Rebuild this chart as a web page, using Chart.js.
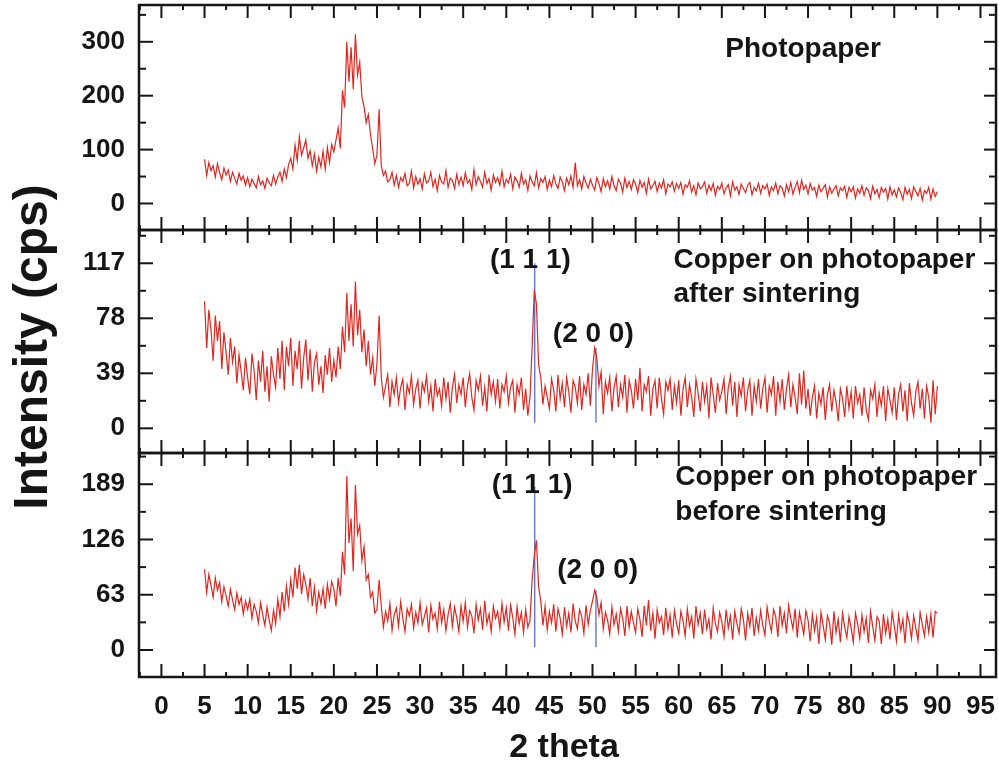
<!DOCTYPE html>
<html>
<head>
<meta charset="utf-8">
<script src="https://cdn.jsdelivr.net/npm/chart.js@4"></script>
<style>
  html, body { margin: 0; padding: 0; background: #fff; }
  canvas { display: block; }
</style>
</head>
<body>
<canvas id="xrd" width="999" height="761"></canvas>
<script>
// scan range: 2 theta from 5 to 90 in 0.25 degree steps
const thetaStart = 5;
const thetaStep = 0.25;

// intensities (cps), one row per 5 degrees
const photopaper = [
  82, 52, 76, 61, 70, 49, 74, 57, 44, 66, 53, 62, 41, 58, 47, 36, 56, 43, 51, 34,
  48, 31, 45, 37, 29, 50, 35, 42, 28, 47, 38, 33, 52, 36, 49, 58, 41, 64, 48, 72,
  84, 64, 108, 80, 124, 90, 103, 118, 84, 98, 70, 92, 60, 86, 68, 97, 64, 104, 76, 110,
  96, 118, 140, 102, 210, 178, 300, 226, 290, 212, 314, 238, 262, 198, 180, 150, 165, 128, 102, 74,
  90, 175, 70, 52, 60, 40, 44, 58, 34, 52, 30, 48, 41, 56, 33, 37, 60, 29, 50, 36,
  46, 27, 55, 38, 42, 58, 31, 45, 24, 52, 40, 36, 61, 30, 47, 43, 28, 54, 35, 49,
  33, 57, 38, 44, 26, 63, 35, 50, 41, 30, 58, 37, 46, 25, 53, 39, 48, 34, 60, 31,
  45, 38, 54, 27, 49, 42, 30, 56, 36, 44, 24, 51, 40, 33, 57, 29, 46, 39, 50, 26,
  43, 31, 52, 36, 28, 49, 40, 24, 47, 35, 51, 30, 76, 33, 44, 27, 50, 38, 29, 45,
  34, 25, 48, 37, 22, 46, 31, 42, 27, 50, 33, 24, 45, 38, 21, 47, 30, 41, 26, 44,
  36, 20, 43, 30, 39, 19, 45, 27, 33, 41, 22, 38, 29, 44, 18, 36, 31, 40, 23, 37,
  28, 39, 17, 35, 30, 42, 21, 33, 16, 38, 27, 31, 40, 19, 34, 24, 37, 15, 32, 26,
  38, 18, 29, 35, 14, 40, 25, 31, 17, 36, 28, 20, 34, 39, 16, 30, 23, 37, 19, 33,
  27, 36, 15, 31, 24, 38, 18, 33, 29, 14, 35, 22, 39, 17, 30, 41, 20, 43, 26, 34,
  18, 37, 25, 30, 13, 34, 22, 28, 35, 12, 31, 19, 27, 33, 14, 29, 24, 32, 11, 30,
  22, 31, 10, 27, 19, 33, 15, 29, 24, 9, 32, 18, 26, 11, 30, 21, 28, 8, 31, 16,
  25, 12, 29, 20, 7, 30, 17, 26, 9, 31, 22, 14, 28, 6, 24, 19, 30, 8, 27, 13,
  22
];

const afterSintering = [
  90, 57, 84, 70, 48, 80, 62, 76, 42, 68, 54, 38, 64, 47, 58, 32, 52, 40, 27, 50,
  36, 24, 53, 41, 20, 48, 33, 55, 26, 44, 19, 51, 38, 29, 57, 35, 62, 27, 58, 44,
  64, 30, 55, 42, 62, 28, 50, 63, 34, 56, 26, 47, 53, 31, 44, 25, 52, 38, 57, 33,
  48, 36, 58, 42, 72, 54, 96, 62, 88, 58, 104, 66, 84, 54, 70, 44, 62, 38, 50, 30,
  46, 80, 36, 22, 30, 38, 15, 33, 24, 36, 18, 29, 35, 13, 31, 25, 37, 17, 28, 34,
  14, 32, 26, 37, 19, 30, 12, 35, 23, 28, 16, 36, 21, 33, 11, 29, 38, 18, 31, 24,
  36, 15, 30, 39, 22, 13, 34, 27, 37, 16, 29, 12, 38, 24, 33, 19, 35, 14, 31, 26,
  37, 18, 29, 34, 11, 31, 24, 36, 13, 28, 9, 22, 58, 98, 88, 45, 36, 17, 30, 22,
  14, 35, 27, 12, 38, 21, 32, 15, 36, 26, 11, 34, 29, 18, 37, 13, 31, 24, 39, 16,
  42, 57, 50, 30, 40, 10, 33, 25, 36, 12, 29, 37, 15, 31, 22, 38, 11, 34, 27, 14,
  35, 20, 43, 12, 31, 26, 37, 9, 28, 34, 14, 36, 21, 10, 33, 27, 35, 13, 30, 18,
  34, 9, 28, 36, 15, 31, 22, 8, 35, 25, 12, 33, 19, 30, 7, 36, 24, 11, 32, 20,
  26, 35, 10, 29, 37, 16, 33, 8, 31, 23, 36, 12, 27, 34, 9, 30, 19, 35, 14, 28,
  36, 11, 30, 24, 37, 9, 33, 19, 35, 13, 28, 38, 15, 31, 22, 10, 39, 17, 41, 14,
  28, 9, 22, 30, 7, 25, 17, 29, 6, 24, 31, 12, 27, 19, 5, 28, 21, 8, 30, 14,
  26, 7, 30, 18, 24, 9, 29, 13, 6, 27, 21, 31, 8, 25, 16, 30, 5, 28, 20, 11,
  29, 6, 24, 31, 12, 27, 5, 32, 18, 9, 26, 33, 14, 28, 7, 30, 22, 4, 34, 10,
  30
];

const beforeSintering = [
  92, 66, 86, 74, 60, 82, 68, 77, 55, 72, 62, 50, 69, 57, 46, 65, 52, 60, 41, 56,
  46, 58, 36, 52, 44, 31, 54, 40, 28, 49, 34, 22, 45, 30, 58, 38, 66, 44, 73, 52,
  80, 60, 94, 70, 97, 64, 86, 75, 58, 82, 50, 72, 45, 66, 53, 70, 47, 75, 58, 78,
  70, 50, 82, 62, 112, 86, 198, 122, 150, 90, 188, 132, 142, 102, 118, 80, 86, 60, 66, 42,
  46, 80, 50, 26, 44, 33, 53, 22, 40, 48, 27, 55, 36, 21, 47, 39, 52, 25, 43, 31,
  54, 29, 38, 48, 20, 51, 35, 42, 24, 55, 31, 46, 22, 40, 53, 27, 49, 37, 21, 50,
  33, 54, 26, 45, 39, 19, 52, 34, 47, 23, 56, 30, 41, 21, 50, 36, 44, 25, 53, 32,
  48, 22, 51, 37, 18, 49, 30, 43, 20, 46, 26, 34, 80, 108, 125, 72, 56, 28, 50, 23,
  44, 31, 52, 21, 47, 36, 18, 49, 27, 42, 20, 53, 33, 24, 46, 38, 19, 51, 29, 45,
  56, 68, 60, 40, 54, 24, 43, 34, 18, 49, 29, 41, 21, 47, 36, 16, 50, 26, 44, 31,
  20, 47, 35, 15, 50, 28, 57, 22, 42, 13, 46, 31, 38, 17, 48, 24, 40, 14, 45, 30,
  19, 44, 33, 16, 47, 27, 38, 13, 50, 29, 42, 18, 46, 24, 35, 12, 48, 30, 21, 43,
  32, 15, 46, 25, 39, 12, 44, 30, 19, 47, 35, 11, 42, 27, 48, 16, 37, 22, 45, 28,
  17, 49, 33, 21, 46, 38, 15, 50, 28, 42, 19, 51, 36, 24, 47, 14, 43, 31, 18, 45,
  34, 10, 41, 22, 37, 7, 43, 28, 12, 39, 31, 6, 44, 20, 35, 9, 42, 26, 14, 38,
  25, 9, 42, 30, 13, 40, 21, 36, 8, 44, 27, 11, 38, 33, 7, 41, 19, 35, 12, 43,
  28, 10, 40, 22, 35, 8, 42, 31, 13, 39, 25, 11, 43, 29, 16, 38, 20, 41, 14, 44,
  42
];

// Cu reference reflections (111) and (200)
const cuPeakTheta = [43.3, 50.4];
const cuAfterHeights = [117, 57];
const cuBeforeHeights = [186, 68];
const cuAfterBase = 4;
const cuBeforeBase = 3;

// tick labels
const thetaTicks = [0, 5, 10, 15, 20, 25, 30, 35, 40, 45, 50, 55, 60, 65, 70, 75, 80, 85, 90, 95];
const photopaperTicks = [0, 100, 200, 300];
const afterTicks = [0, 39, 78, 117];
const beforeTicks = [0, 63, 126, 189];

const RED = '#e0261e';
const BLUE = '#4d5fc9';
const INK = '#151515';
const FONT = '"Liberation Sans", Arial, sans-serif';

const toPoints = (values) => values.map((y, i) => ({ x: thetaStart + i * thetaStep, y }));

const refLines = (heights, base, axis) => cuPeakTheta.map((t, i) => ({
  data: [{ x: t, y: base }, { x: t, y: heights[i] }],
  yAxisID: axis,
  borderColor: BLUE,
  borderWidth: 1.2,
  pointRadius: 0,
}));

const traceSet = (values, axis) => ({
  data: toPoints(values),
  yAxisID: axis,
  borderColor: RED,
  borderWidth: 1.2,
  pointRadius: 0,
  tension: 0,
});

const panels = [
  { axis: 'yPaper', ticks: photopaperTicks },
  { axis: 'yAfter', ticks: afterTicks },
  { axis: 'yBefore', ticks: beforeTicks },
];

// text placed in data units of each panel
const notes = [
  { axis: 'yPaper', x: 65.4, y: 272, text: 'Photopaper' },
  { axis: 'yAfter', x: 59.4, y: 113.7, text: 'Copper on photopaper' },
  { axis: 'yAfter', x: 59.4, y: 89.6, text: 'after sintering' },
  { axis: 'yAfter', x: 38.1, y: 113.7, text: '(1 1 1)' },
  { axis: 'yAfter', x: 45.4, y: 61.3, text: '(2 0 0)' },
  { axis: 'yBefore', x: 59.6, y: 188, text: 'Copper on photopaper' },
  { axis: 'yBefore', x: 59.6, y: 148, text: 'before sintering' },
  { axis: 'yBefore', x: 38.3, y: 179, text: '(1 1 1)' },
  { axis: 'yBefore', x: 45.9, y: 82, text: '(2 0 0)' },
];

const minorTicks = (ticks, min, max) => {
  const step = ticks[1] - ticks[0];
  const out = [];
  for (let v = ticks[0] - step / 2; v < max; v += step) {
    if (v > min) out.push(v);
  }
  return out;
};

// frame, inward ticks and the text labels
const panelFrame = {
  id: 'panelFrame',
  afterDraw(chart) {
    const { ctx, chartArea, scales } = chart;
    const xs = scales.x;
    const seg = (x1, y1, x2, y2) => {
      ctx.beginPath();
      ctx.moveTo(x1, y1);
      ctx.lineTo(x2, y2);
      ctx.stroke();
    };
    ctx.save();
    ctx.strokeStyle = INK;
    const xMinor = minorTicks(thetaTicks, xs.min, xs.max);
    panels.forEach((p) => {
      const ys = scales[p.axis];
      ctx.lineWidth = 2;
      thetaTicks.forEach((v) => {
        const px = xs.getPixelForValue(v);
        seg(px, ys.bottom, px, ys.bottom - 13);
        seg(px, ys.top, px, ys.top + 13);
      });
      xMinor.forEach((v) => {
        const px = xs.getPixelForValue(v);
        seg(px, ys.bottom, px, ys.bottom - 5);
        seg(px, ys.top, px, ys.top + 5);
      });
      p.ticks.forEach((v) => {
        const py = ys.getPixelForValue(v);
        seg(chartArea.left, py, chartArea.left + 14, py);
        seg(chartArea.right, py, chartArea.right - 12, py);
      });
      minorTicks(p.ticks, ys.min, ys.max).forEach((v) => {
        const py = ys.getPixelForValue(v);
        seg(chartArea.left, py, chartArea.left + 7, py);
        seg(chartArea.right, py, chartArea.right - 7, py);
      });
      ctx.lineWidth = 2.5;
      ctx.strokeRect(chartArea.left, ys.top, chartArea.right - chartArea.left, ys.bottom - ys.top);
    });

    ctx.fillStyle = INK;
    ctx.font = 'bold 28px ' + FONT;
    ctx.textAlign = 'left';
    ctx.textBaseline = 'alphabetic';
    notes.forEach((n) => {
      ctx.fillText(n.text, xs.getPixelForValue(n.x), scales[n.axis].getPixelForValue(n.y));
    });

    // axis titles
    ctx.font = 'bold 34px ' + FONT;
    ctx.textAlign = 'center';
    ctx.fillText('2 theta', 564, 757);
    ctx.translate(47, 347);
    ctx.rotate(-Math.PI / 2);
    ctx.font = 'bold 48px ' + FONT;
    ctx.fillText('Intensity (cps)', 0, 0);
    ctx.restore();
  },
};

const tickFont = { family: FONT, size: 26, weight: 'bold' };

// no extra room for labels hanging past the plot edges
const noOverhang = (scale) => {
  scale.paddingTop = 0;
  scale.paddingBottom = 0;
  scale.paddingLeft = 0;
  scale.paddingRight = 0;
};

const yScale = (ticks, min, max, weight) => ({
  type: 'linear',
  stack: 'xrd',
  stackWeight: weight,
  min,
  max,
  grid: { display: false, drawTicks: false },
  border: { display: false },
  ticks: { font: tickFont, color: INK, padding: 14 },
  afterBuildTicks: (scale) => { scale.ticks = ticks.map((value) => ({ value })); },
  afterFit: (scale) => { scale.width = 139; noOverhang(scale); },
});

new Chart(document.getElementById('xrd'), {
  type: 'line',
  data: {
    datasets: [
      traceSet(photopaper, 'yPaper'),
      traceSet(afterSintering, 'yAfter'),
      traceSet(beforeSintering, 'yBefore'),
      ...refLines(cuAfterHeights, cuAfterBase, 'yAfter'),
      ...refLines(cuBeforeHeights, cuBeforeBase, 'yBefore'),
    ],
  },
  options: {
    responsive: false,
    animation: false,
    layout: { padding: { top: 5, right: 3, left: 0, bottom: 0 } },
    plugins: { legend: { display: false }, tooltip: { enabled: false } },
    scales: {
      x: {
        type: 'linear',
        min: -2.6,
        max: 96.8,
        grid: { display: false, drawTicks: false },
        border: { display: false },
        ticks: { font: tickFont, color: INK, padding: 14, autoSkip: false, maxRotation: 0 },
        afterBuildTicks: (scale) => { scale.ticks = thetaTicks.map((value) => ({ value })); },
        afterFit: (scale) => { scale.height = 84; noOverhang(scale); },
      },
      // the last stacked axis ends up on top
      yBefore: yScale(beforeTicks, -30.8, 224.6, 224),
      yAfter: yScale(afterTicks, -17.5, 140.6, 223),
      yPaper: yScale(photopaperTicks, -49.2, 368.3, 225),
    },
  },
  plugins: [panelFrame],
});
</script>
</body>
</html>
